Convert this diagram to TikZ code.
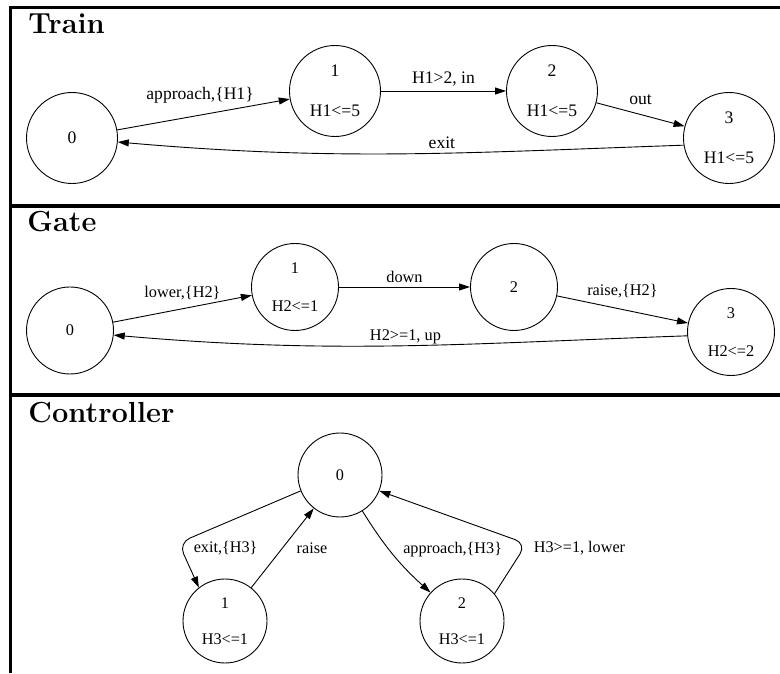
\documentclass[tikz,border=0pt]{standalone}
\usepackage{fontspec}
\newfontfamily\gvfont{Liberation Serif}
\usepackage{tikz}
\usetikzlibrary{arrows.meta}

\tikzset{
  frame/.style={line width=3.3pt},
  ttl/.style={anchor=base west, inner sep=0pt, font=\fontsize{29}{34}\selectfont\bfseries},
  tstate/.style={circle, draw, line width=0.9pt, minimum size=91pt, inner sep=0pt, align=center, font=\gvfont\fontsize{17.6}{40}\selectfont},
  gstate/.style={circle, draw, line width=0.9pt, minimum size=87pt, inner sep=0pt, align=center, font=\gvfont\fontsize{16.3}{38}\selectfont},
  cstate/.style={circle, draw, line width=0.9pt, minimum size=84pt, inner sep=0pt, align=center, font=\gvfont\fontsize{16.2}{36}\selectfont},
  tlbl/.style={inner sep=0pt, font=\gvfont\fontsize{17.6}{20}\selectfont},
  glbl/.style={inner sep=0pt, font=\gvfont\fontsize{16.3}{19}\selectfont},
  clbl/.style={inner sep=0pt, font=\gvfont\fontsize{16.2}{19}\selectfont}
}

\begin{document}
\begin{tikzpicture}[>={Triangle[length=11pt,width=7pt]},x=1pt,y=1pt,line width=0.9pt]
  \useasboundingbox (0,0) rectangle (780,673);
  \draw[frame] (10.5,0) -- (10.5,665.5) -- (780,665.5);
  \draw[frame] (10.5,467) -- (780,467);
  \draw[frame] (10.5,278) -- (780,278);

  \node (train) [ttl] at (28,639) {Train};
  \node (T0) [tstate] at (72,535) {0};
  \node (T1) [tstate] at (335,582) {1\\H1<=5};
  \node (T2) [tstate] [right of = T1, node distance=217pt] {2\\H1<=5};
  \node (T3) [tstate] at (729,535) {3\\H1<=5};

  \path[->] (T0) edge node[tlbl, pos=.48, yshift=20pt] {approach,\{H1\}} (T1);
  \path[->] (T1) edge node[tlbl, yshift=12pt] {H1>2, in} (T2);
  \path[->] (T2) edge node[tlbl, yshift=15pt] {out} (T3);
  \path[->] (T3.189) edge[out=182, in=-5] node[tlbl, pos=.42, yshift=10pt] {exit} (T0.-5);

  \node (gate) [ttl] at (27,441) {Gate};
  \node (G0) [gstate] at (70,342.5) {0};
  \node (G1) [gstate] at (295,386) {1\\H2<=1};
  \node (G2) [gstate] [right of = G1, node distance=219pt] {2};
  \node (G3) [gstate] at (731,341) {3\\H2<=2};

  \path[->] (G0) edge node[glbl, yshift=16pt] {lower,\{H2\}} (G1);
  \path[->] (G1) edge node[glbl, yshift=10pt] {down} (G2);
  \path[->] (G2) edge node[glbl, yshift=18.5pt] {raise,\{H2\}} (G3);
  \path[->] (G3.185) edge[out=182, in=-5] node[glbl, pos=.49, yshift=9pt] {H2>=1, up} (G0.-6);

  \node (controller) [ttl] at (28,250) {Controller};
  \node (C0) [cstate] at (340,198) {0};
  \node (C1) [cstate] at (225,52) {1\\H3<=1};
  \node (C2) [cstate] [right of = C1, node distance=237pt] {2\\H3<=1};

  \draw[->, rounded corners=12pt] (C0.202) -- ++(-122,-52) node[clbl, xshift=47pt, yshift=-5pt] {exit,\{H3\}} -- (C1.128);
  \path[->] (C1) edge node[clbl, xshift=29.5pt] {raise} (C0);
  \path[->] (C0) edge[bend right=8] node[clbl, xshift=59.5pt, yshift=4.5pt] {approach,\{H3\}} (C2);
  \draw[->, rounded corners=12pt] (C2.40) -- ++(32,50) node[clbl, xshift=53pt, yshift=-4pt] {H3>=1, lower} -- (C0.-22);
\end{tikzpicture}
\end{document}
